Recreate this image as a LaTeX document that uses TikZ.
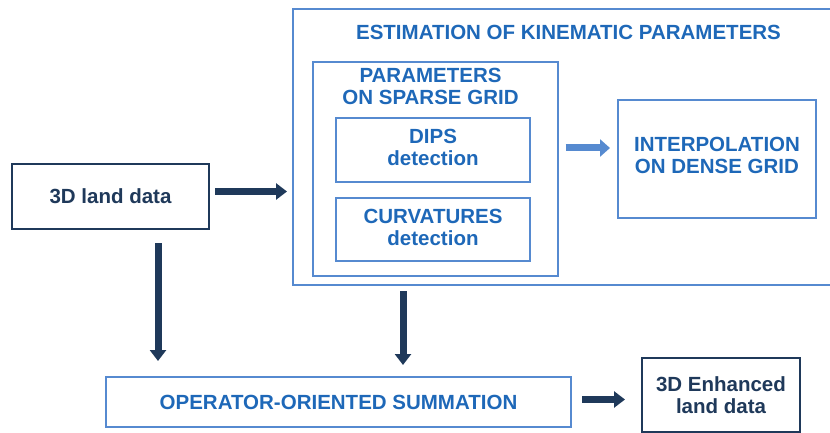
\documentclass[tikz,border=0pt]{standalone}
\usepackage{fontspec}
\setmainfont{Liberation Sans}
\usetikzlibrary{arrows.meta}

\definecolor{navy}{RGB}{31,57,90}
\definecolor{skyline}{RGB}{86,138,208}
\definecolor{bluetext}{RGB}{30,104,184}

\begin{document}
\begin{tikzpicture}[x=1pt,y=-1pt,
  every node/.style={font=\fontsize{20.5}{22}\selectfont\bfseries,align=center},
  navybox/.style={draw=navy,line width=2.5pt,text=navy,inner sep=0pt,outer sep=0pt},
  bluebox/.style={draw=skyline,line width=2.2pt,text=bluetext,inner sep=0pt,outer sep=0pt},
  navyarrow/.style={draw=navy,line width=7pt,-{Triangle[width=16pt,length=11pt]}},
  bluearrow/.style={draw=skyline,line width=7pt,-{Triangle[width=17pt,length=10pt]}}]
\useasboundingbox (0,0) rectangle (830,433);
\node[navybox,minimum width=197pt,minimum height=65pt] (Land) at (110.5,196.5){3D land data};
\node[bluebox,minimum width=541pt,minimum height=276pt,
  label={[text=bluetext,anchor=north,xshift=5pt,yshift=-13pt]north:ESTIMATION OF KINEMATIC PARAMETERS}] (Est) at (563.5,147){};
\node[bluebox,minimum width=245pt,minimum height=214pt,
  label={[text=bluetext,anchor=north,xshift=-5pt,yshift=-3pt]north:PARAMETERS\\ON SPARSE GRID}] (Spa) at (435.5,169){};
\node[bluebox,minimum width=194pt,minimum height=64pt,text depth=5pt] (Dip) at (433,150){DIPS\\detection};
\node[bluebox,minimum width=194pt,minimum height=63pt,text depth=5pt] (Cur) at (433,229.5){CURVATURES\\detection};
\node[bluebox,minimum width=198pt,minimum height=118pt,
  label={[text=bluetext,anchor=north,yshift=-34pt]north:INTERPOLATION\\ON DENSE GRID}] (Int) at (717,159){};
\node[bluebox,minimum width=465pt,minimum height=50pt] (Sum) at (338.5,402){OPERATOR-ORIENTED SUMMATION};
\node[navybox,minimum width=158pt,minimum height=74pt] (Enh) at (721,395){3D Enhanced\\land data};
\draw[navyarrow,shorten <=6pt,shorten >=6pt] ([yshift=5pt]Land.east) -- ([yshift=5pt]Land.east -| Est.west);
\draw[navyarrow,shorten <=14pt,shorten >=16pt] ([xshift=47.5pt]Land.south) -- ([xshift=47.5pt]Land.south |- Sum.north);
\draw[navyarrow,shorten <=6pt,shorten >=12pt] ([xshift=-160.5pt]Est.south) -- ([xshift=-160.5pt]Est.south |- Sum.north);
\draw[bluearrow,shorten <=7.5pt,shorten >=8pt] ([yshift=21pt]Spa.east) -- ([yshift=21pt]Spa.east -| Int.west);
\draw[navyarrow,shorten <=11pt,shorten >=17pt] ([yshift=2.5pt]Sum.east) -- ([yshift=2.5pt]Sum.east -| Enh.west);
\end{tikzpicture}
\end{document}
